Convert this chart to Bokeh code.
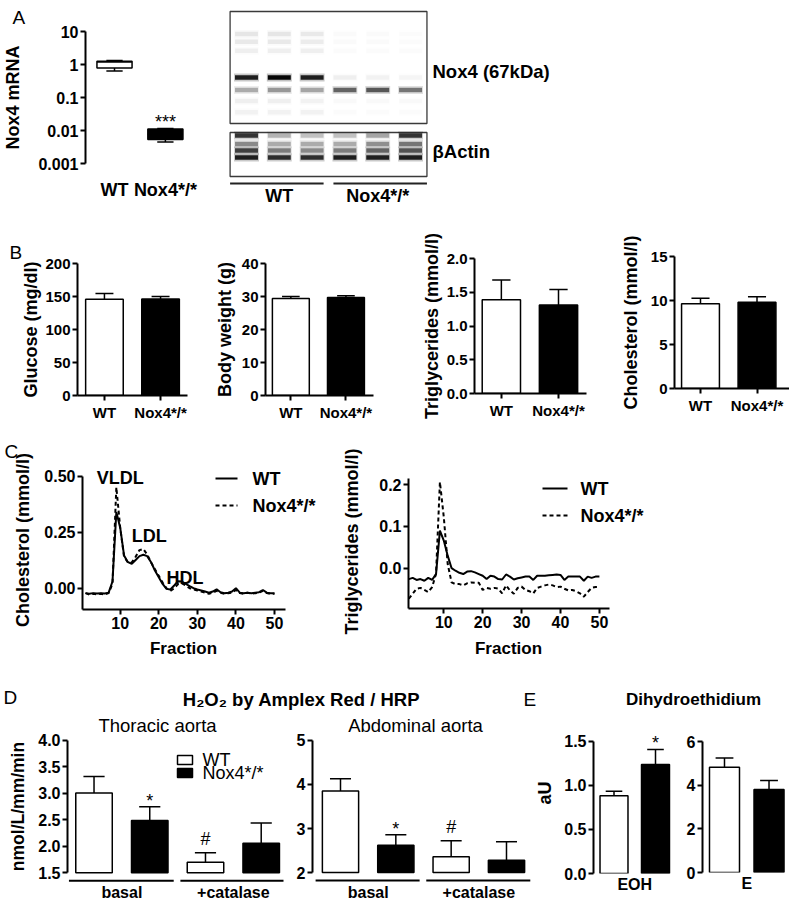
import math
from bokeh.plotting import figure
from bokeh.layouts import row, column
from bokeh.models import (Range1d, FixedTicker, PrintfTickFormatter, Label, LabelSet,
                          ColumnDataSource)
from bokeh.core.properties import value
from bokeh.embed import file_html
from bokeh.resources import INLINE

FONT = "Liberation Sans"

# ---------------------------------------------------------------- data
genotypes = ["WT", "Nox4*/*"]
bar_colors = ["white", "black"]

# A: Nox4 mRNA (box plot summary, log scale)
mrna_min = [0.63, 0.0045]
mrna_q1 = [0.79, 0.0053]
mrna_median = [1.20, 0.0077]
mrna_q3 = [1.26, 0.0112]
mrna_max = [1.32, 0.0115]
mrna_sig = ["", "***"]
mrna_ticks = [0.001, 0.01, 0.1, 1, 10]
mrna_tick_labels = ["0.001", "0.01", "0.1", "1", "10"]

# A: western blot (relative migration and band density per lane)
blot_lane_groups = ["WT", "WT", "WT", "Nox4*/*", "Nox4*/*", "Nox4*/*"]
nox4_band_rf = [0.20, 0.27, 0.35, 0.59, 0.70, 0.80, 0.90]
nox4_band_density = [
    [0.08, 0.08, 0.07, 0.015, 0.015, 0.01],
    [0.07, 0.07, 0.06, 0.015, 0.015, 0.01],
    [0.05, 0.05, 0.05, 0.01, 0.01, 0.01],
    [0.85, 0.97, 0.85, 0.05, 0.04, 0.03],
    [0.28, 0.35, 0.30, 0.55, 0.60, 0.48],
    [0.05, 0.05, 0.04, 0.02, 0.02, 0.02],
    [0.04, 0.04, 0.04, 0.01, 0.01, 0.01],
]
actin_band_rf = [0.07, 0.26, 0.41, 0.57]
actin_band_density = [
    [0.75, 0.25, 0.20, 0.20, 0.30, 0.75],
    [0.40, 0.28, 0.28, 0.28, 0.38, 0.48],
    [0.70, 0.45, 0.40, 0.45, 0.55, 0.62],
    [0.85, 0.78, 0.78, 0.85, 0.85, 0.85],
]

# B: plasma parameters (mean, SEM)
glucose_mean = [145.8, 146.3]
glucose_sem = [8.6, 3.7]
bw_mean = [29.4, 29.7]
bw_sem = [0.6, 0.5]
tg_mean = [1.39, 1.31]
tg_sem = [0.29, 0.23]
chol_mean = [9.62, 9.81]
chol_sem = [0.64, 0.61]

# C: FPLC profiles
fractions = list(range(1, 51))
chol_wt = [-0.022, -0.025, -0.022, -0.024, -0.022, -0.024, -0.020, 0.030, 0.340, 0.270,
           0.146, 0.116, 0.109, 0.126, 0.143, 0.149, 0.143, 0.116, 0.079, 0.049,
           0.019, -0.003, -0.006, 0.012, 0.031, 0.030, 0.019, 0.009, 0.000, -0.006,
           -0.010, -0.015, -0.020, -0.015, -0.005, -0.018, -0.022, -0.020, -0.015, 0.000,
           -0.020, -0.022, -0.020, -0.022, -0.020, -0.018, -0.008, -0.020, -0.022, -0.022]
chol_nox = [-0.022, -0.028, -0.025, -0.028, -0.025, -0.028, -0.022, 0.020, 0.450, 0.270,
            0.140, 0.115, 0.115, 0.140, 0.170, 0.175, 0.150, 0.115, 0.085, 0.055,
            0.025, 0.000, -0.012, 0.000, 0.018, 0.022, 0.012, 0.000, -0.005, -0.010,
            -0.015, -0.020, -0.025, -0.020, -0.012, -0.020, -0.025, -0.022, -0.020, -0.008,
            -0.022, -0.025, -0.020, -0.025, -0.022, -0.020, -0.012, -0.022, -0.025, -0.025]
tg_wt = [-0.026, -0.023, -0.028, -0.026, -0.030, -0.023, -0.028, -0.014, 0.090, 0.066,
         0.030, 0.000, -0.006, -0.011, -0.014, -0.008, -0.007, -0.010, -0.014, -0.018,
         -0.026, -0.018, -0.020, -0.026, -0.027, -0.015, -0.020, -0.027, -0.024, -0.022,
         -0.020, -0.020, -0.028, -0.018, -0.018, -0.018, -0.017, -0.016, -0.015, -0.016,
         -0.028, -0.020, -0.020, -0.020, -0.020, -0.030, -0.020, -0.023, -0.020, -0.020]
tg_nox = [-0.073, -0.061, -0.049, -0.047, -0.052, -0.057, -0.045, -0.014, 0.206, 0.122,
          0.010, -0.034, -0.038, -0.038, -0.041, -0.036, -0.034, -0.035, -0.035, -0.052,
          -0.047, -0.049, -0.047, -0.049, -0.060, -0.041, -0.053, -0.061, -0.047, -0.044,
          -0.052, -0.055, -0.060, -0.047, -0.044, -0.041, -0.039, -0.041, -0.045, -0.044,
          -0.049, -0.053, -0.052, -0.055, -0.060, -0.068, -0.057, -0.047, -0.045, -0.045]
lipo_names = ["VLDL", "LDL", "HDL"]

# D: H2O2 release
h2o2_conditions = ["basal", "basal", "+catalase", "+catalase"]
h2o2_colors = ["white", "black", "white", "black"]
thoracic_mean = [3.01, 2.49, 1.70, 2.06]
thoracic_sem = [0.31, 0.26, 0.18, 0.38]
thoracic_sig = ["", "*", "#", ""]
abdominal_mean = [3.85, 2.62, 2.36, 2.28]
abdominal_sem = [0.28, 0.24, 0.36, 0.42]
abdominal_sig = ["", "*", "#", ""]

# E: dihydroethidium
eoh_mean = [0.884, 1.24]
eoh_sem = [0.05, 0.17]
eoh_sig = ["", "*"]
e_mean = [4.82, 3.80]
e_sem = [0.43, 0.41]
e_sig = ["", ""]

# ---------------------------------------------------------------- helpers
GEOM = {}


def make_fig(box, frame, xr, yr, y_log=False, x_axis=True, y_axis=True):
    x0, y0, x1, y1 = box
    fx0, fy0, fx1, fy1 = frame
    p = figure(width=x1 - x0, height=y1 - y0,
               x_range=Range1d(*xr), y_range=Range1d(*yr),
               y_axis_type="log" if y_log else "linear",
               x_axis_location="below" if x_axis else None,
               y_axis_location="left" if y_axis else None,
               min_border_left=fx0 - x0, min_border_right=x1 - fx1,
               min_border_top=fy0 - y0, min_border_bottom=y1 - fy1,
               frame_align=False,
               output_backend="svg", toolbar_location=None)
    p.outline_line_color = None
    p.grid.visible = False
    p.background_fill_color = "white"
    p.border_fill_color = "white"
    GEOM[p.id] = (frame, xr, yr, y_log)
    return p


def canvas_fig(box):
    x0, y0, x1, y1 = box
    return make_fig(box, box, (x0, x1), (y1, y0), x_axis=False, y_axis=False)


def to_data(p, px, py):
    (fx0, fy0, fx1, fy1), (xa, xb), (ya, yb), ylog = GEOM[p.id]
    x = xa + (px - fx0) / (fx1 - fx0) * (xb - xa)
    t = (py - fy0) / (fy1 - fy0)
    if ylog:
        la, lb = math.log10(ya), math.log10(yb)
        y = 10 ** (lb - t * (lb - la))
    else:
        y = yb - t * (yb - ya)
    return x, y


def px_per_y(p):
    (fx0, fy0, fx1, fy1), _, (ya, yb), _ = GEOM[p.id]
    return (fy1 - fy0) / (yb - ya)


def label(p, px, py, txt, size="18px", bold=False, align="left", baseline="middle", angle=0.0):
    x, y = to_data(p, px, py)
    p.add_layout(Label(x=x, y=y, text=txt, text_font=FONT, text_font_size=size,
                       text_font_style="bold" if bold else "normal", text_color="black",
                       text_align=align, text_baseline=baseline, angle=angle))


def panel_letter(p, letter, px, standoff):
    frame = GEOM[p.id][0]
    p.title.text = letter
    p.title.align = "left"
    p.title.offset = px - frame[0]
    p.title.standoff = standoff
    p.title.text_font = FONT
    p.title.text_font_size = "19px"
    p.title.text_font_style = "normal"
    p.title.text_color = "black"


def style_axis(ax, size, bold=True, tick_out=5, standoff=2):
    ax.axis_line_width = 2
    ax.axis_line_color = "black"
    ax.major_tick_line_width = 2
    ax.major_tick_line_color = "black"
    ax.major_tick_out = tick_out
    ax.major_tick_in = 0
    ax.minor_tick_line_color = None
    ax.major_label_text_font = FONT
    ax.major_label_text_font_size = size
    ax.major_label_text_font_style = "bold" if bold else "normal"
    ax.major_label_text_color = "black"
    ax.major_label_standoff = standoff
    ax.axis_label_text_font = FONT
    ax.axis_label_text_font_style = "bold"
    ax.axis_label_text_color = "black"


def set_yaxis(p, ticks, size="15px", fmt=None, overrides=None, axis_label=None,
              label_size="18px", label_standoff=5, bounds=None):
    ax = p.yaxis[0]
    style_axis(ax, size)
    ax.ticker = FixedTicker(ticks=ticks)
    if fmt:
        ax.formatter = PrintfTickFormatter(format=fmt)
    if overrides:
        ax.major_label_overrides = overrides
    if axis_label:
        ax.axis_label = axis_label
        ax.axis_label_text_font_size = label_size
        ax.axis_label_standoff = label_standoff
    if bounds:
        ax.bounds = bounds


def draw_bars(p, means, sems, colors, width, cap_half, base, sig=None, sig_dy=None, sig_size="18px"):
    xs = list(range(1, len(means) + 1))
    up = [m + s for m, s in zip(means, sems)]
    src = ColumnDataSource(dict(x=xs, top=means, up=up, color=colors,
                                cl=[x - cap_half for x in xs], cr=[x + cap_half for x in xs]))
    r = p.vbar(x="x", top="top", bottom=base, width=width, fill_color="color",
               line_color="black", line_width=1.5, source=src)
    p.segment(x0="x", y0="top", x1="x", y1="up", line_color="black", line_width=1.5, source=src)
    p.segment(x0="cl", y0="up", x1="cr", y1="up", line_color="black", line_width=1.5, source=src)
    if sig:
        dys = [(sig_dy or {}).get(t, 0) for t in sig]
        s2 = ColumnDataSource(dict(x=xs, y=up, t=sig, dy=dys))
        p.add_layout(LabelSet(x="x", y="y", text="t", y_offset="dy", source=s2,
                              text_font=value(FONT), text_font_size=sig_size,
                              text_align="center", text_baseline="alphabetic",
                              text_color="black"))
    return r, xs


def cat_xaxis(p, xs, names, size="15px", standoff=3, line=True):
    ax = p.xaxis[0]
    style_axis(ax, size, standoff=standoff)
    ax.ticker = FixedTicker(ticks=xs)
    ax.major_label_overrides = {x: n for x, n in zip(xs, names)}
    if not line:
        ax.axis_line_color = None
        ax.major_tick_line_color = None
        ax.major_tick_out = 0


def line_key(p, x0, x1, y, dash="solid"):
    a = to_data(p, x0, y)
    b = to_data(p, x1, y)
    p.segment(x0=[a[0]], y0=[a[1]], x1=[b[0]], y1=[b[1]], line_color="black",
              line_width=2, line_dash=dash)


def box_key(p, x0, x1, y0, y1, color):
    a = to_data(p, x0, y0)
    b = to_data(p, x1, y1)
    p.quad(left=[a[0]], right=[b[0]], top=[a[1]], bottom=[b[1]], fill_color=color,
           line_color="black", line_width=1.5)


# ---------------------------------------------------------------- row A
pA1 = make_fig((0, 0, 225, 205), (77, 31, 200, 163), (0.43, 2.69), (0.001, 10), y_log=True)
panel_letter(pA1, "A", 4, 7)
xsA = list(range(1, len(genotypes) + 1))
bw_box = 0.69
srcA = ColumnDataSource(dict(
    x=xsA, lo=mrna_min, q1=mrna_q1, med=mrna_median, q3=mrna_q3, hi=mrna_max, color=bar_colors,
    cl=[x - 0.16 for x in xsA], cr=[x + 0.16 for x in xsA],
    bl=[x - bw_box / 2 for x in xsA], br=[x + bw_box / 2 for x in xsA]))
pA1.segment(x0="x", y0="q3", x1="x", y1="hi", line_color="black", line_width=1.5, source=srcA)
pA1.segment(x0="x", y0="q1", x1="x", y1="lo", line_color="black", line_width=1.5, source=srcA)
pA1.segment(x0="cl", y0="hi", x1="cr", y1="hi", line_color="black", line_width=1.5, source=srcA)
pA1.segment(x0="cl", y0="lo", x1="cr", y1="lo", line_color="black", line_width=1.5, source=srcA)
pA1.vbar(x="x", width=bw_box, bottom="q1", top="q3", fill_color="color",
         line_color="black", line_width=1.5, source=srcA)
pA1.segment(x0="bl", y0="med", x1="br", y1="med", line_color="black", line_width=1.5, source=srcA)
pA1.add_layout(LabelSet(x="x", y="hi", text="t",
                        source=ColumnDataSource(dict(x=xsA, hi=mrna_max, t=mrna_sig)),
                        text_font=value(FONT), text_font_size="18px", text_align="center",
                        text_baseline="alphabetic", text_color="black"))
set_yaxis(pA1, mrna_ticks, size="16px",
          overrides={t: s for t, s in zip(mrna_ticks, mrna_tick_labels)},
          axis_label="Nox4 mRNA", label_size="18px", label_standoff=12)
cat_xaxis(pA1, xsA, genotypes, size="18px", standoff=16, line=False)

# western blot
pA2 = make_fig((225, 0, 789, 205), (225, 0, 789, 205), (0.36, 17.55), (205, 0),
               x_axis=False, y_axis=False)
lanes = list(range(1, len(blot_lane_groups) + 1))
nox4_top, nox4_bottom = 11, 123
actin_top, actin_bottom = 132, 176
for top, bottom in [(nox4_top, nox4_bottom), (actin_top, actin_bottom)]:
    pA2.quad(left=[lanes[0] - 0.5], right=[lanes[-1] + 0.5], top=[top], bottom=[bottom],
             fill_color="white", line_color="#3a3a3a", line_width=1.3)


def band_source(rfs, dens, top, bottom):
    xs, ys, a = [], [], []
    for rf, row_d in zip(rfs, dens):
        for lane, d in zip(lanes, row_d):
            xs.append(lane)
            ys.append(top + rf * (bottom - top))
            a.append(d)
    return xs, ys, a


for rfs, dens, top, bottom in [(nox4_band_rf, nox4_band_density, nox4_top, nox4_bottom),
                               (actin_band_rf, actin_band_density, actin_top, actin_bottom)]:
    bx, by, ba = band_source(rfs, dens, top, bottom)
    pA2.rect(x=bx, y=by, width=0.76, height=8, fill_color="black",
             fill_alpha=[v * 0.25 for v in ba], line_color=None)
    pA2.rect(x=bx, y=by, width=0.70, height=4.5, fill_color="black", fill_alpha=ba, line_color=None)

group_names = []
for g in blot_lane_groups:
    if g not in group_names:
        group_names.append(g)
g_first = [min(l for l, g in zip(lanes, blot_lane_groups) if g == n) for n in group_names]
g_last = [max(l for l, g in zip(lanes, blot_lane_groups) if g == n) for n in group_names]
ul_x0 = [f - 0.5 + (0.15 if i > 0 else 0) for i, f in enumerate(g_first)]
ul_x1 = [l + 0.5 - (0.15 if i < len(g_last) - 1 else 0) for i, l in enumerate(g_last)]
pA2.segment(x0=ul_x0, x1=ul_x1, y0=[183] * len(group_names), y1=[183] * len(group_names),
            line_color="#222222", line_width=2)
pA2.text(x=[(f + l) / 2 for f, l in zip(g_first, g_last)], y=[195] * len(group_names),
         text=group_names, text_font=value(FONT), text_font_size="18px",
         text_font_style="bold", text_align="center", text_baseline="middle", text_color="black")
label(pA2, 432, 71, "Nox4 (67kDa)", size="18.5px", bold=True)
label(pA2, 432, 151, "βActin", size="18.5px", bold=True)

# ---------------------------------------------------------------- row B


def b_panel(box, frame, xr, yr, ticks, fmt, ylabel, standoff, means, sems):
    p = make_fig(box, frame, xr, yr)
    r, xs = draw_bars(p, means, sems, bar_colors, 0.67, 0.16, 0)
    set_yaxis(p, ticks, size="15px", fmt=fmt, axis_label=ylabel, label_size="18px",
              label_standoff=standoff)
    cat_xaxis(p, xs, genotypes, size="15px", standoff=3)
    return p


pB1 = b_panel((0, 205, 200, 423), (77, 263, 187, 395), (0.52, 2.48), (0, 200),
              [0, 50, 100, 150, 200], None, "Glucose (mg/dl)", 1, glucose_mean, glucose_sem)
panel_letter(pB1, "B", 9, 2)
pB2 = b_panel((200, 205, 410, 423), (265, 263, 373, 395), (0.54, 2.50), (0, 40),
              [0, 10, 20, 30, 40], None, "Body weight (g)", 4, bw_mean, bw_sem)
pB3 = b_panel((410, 205, 610, 423), (474, 258, 586, 393), (0.53, 2.49), (0, 2.0),
              [0, 0.5, 1.0, 1.5, 2.0], "%.1f", "Triglycerides (mmol/l)", 2, tg_mean, tg_sem)
pB4 = b_panel((610, 205, 789, 423), (674, 256, 789, 388), (0.54, 2.575), (0, 15),
              [0, 5, 10, 15], None, "Cholesterol (mmol/l)", 7, chol_mean, chol_sem)

# ---------------------------------------------------------------- row C


def profile_panel(box, frame, xr, yr, xb, yb, wt, nox, ticks, fmt, ylabel, standoff, key):
    p = make_fig(box, frame, xr, yr)
    p.line(fractions, wt, line_color="black", line_width=2)
    p.line(fractions, nox, line_color="black", line_width=2, line_dash="4 3")
    set_yaxis(p, ticks, size="16px", fmt=fmt, axis_label=ylabel, label_size="18px",
              label_standoff=standoff, bounds=yb)
    ax = p.xaxis[0]
    style_axis(ax, "16px", standoff=2)
    ax.ticker = FixedTicker(ticks=[10, 20, 30, 40, 50])
    ax.bounds = xb
    kx0, kx1, tx, ky0, ky1 = key
    line_key(p, kx0, kx1, ky0)
    line_key(p, kx0, kx1, ky1, dash="4 3")
    label(p, tx, ky0, genotypes[0], size="18px", bold=True)
    label(p, tx, ky1, genotypes[1], size="18px", bold=True)
    return p


pC1 = profile_panel((0, 423, 330, 637), (82, 470, 330, 609), (0.226, 64.52), (-0.095, 0.525),
                    (0.226, 52.85), (-0.095, 0.5), chol_wt, chol_nox, [0, 0.25, 0.5], "%.2f",
                    "Cholesterol (mmol/l)", 8, (215, 237, 252, 478, 505))
panel_letter(pC1, "C", 4, 17)
pC2 = profile_panel((330, 423, 789, 637), (408, 474, 789, 608), (0.925, 98.87), (-0.0963, 0.224),
                    (0.925, 52.57), (-0.0963, 0.215), tg_wt, tg_nox, [0, 0.1, 0.2], "%.1f",
                    "Triglycerides (mmol/l)", 14, (542, 567, 580, 488, 515))
for name, f, y in zip(lipo_names, [10, 17.5, 26.8], [0.49, 0.235, 0.047]):
    pC1.add_layout(Label(x=f, y=y, text=name, text_font=FONT, text_font_size="18px",
                         text_font_style="bold", text_align="center", text_baseline="middle",
                         text_color="black"))
pCf = canvas_fig((0, 637, 789, 662))
label(pCf, 183, 648, "Fraction", size="17px", bold=True, align="center")
label(pCf, 508, 648, "Fraction", size="17px", bold=True, align="center")

# ---------------------------------------------------------------- titles D / E
pDt = canvas_fig((0, 662, 540, 712))
pEt = canvas_fig((540, 662, 789, 712))
label(pDt, 3, 697, "D", size="19px")
label(pDt, 523, 699, "E", size="19px")
label(pDt, 301, 699, "H\u2082O\u2082 by Amplex Red / HRP", size="18.5px", bold=True, align="center")
label(pEt, 693, 699, "Dihydroethidium", size="17px", bold=True, align="center")

# ---------------------------------------------------------------- D bars


def h2o2_panel(box, frame, xr, yr, base, means, sems, sig, ticks, fmt, subtitle, sub_x,
               ylabel=None):
    p = make_fig(box, frame, xr, yr, x_axis=False)
    r, xs = draw_bars(p, means, sems, h2o2_colors, 0.655, 0.19, base, sig=sig,
                      sig_dy={"*": 0, "#": 8}, sig_size="18px")
    set_yaxis(p, ticks, size="16px", fmt=fmt, bounds=(ticks[0], ticks[-1]),
              axis_label=ylabel, label_size="17.5px", label_standoff=7)
    ppu = px_per_y(p)
    groups = []
    for c in h2o2_conditions:
        if c not in groups:
            groups.append(c)
    first = [min(x for x, c in zip(xs, h2o2_conditions) if c == g) for g in groups]
    last = [max(x for x, c in zip(xs, h2o2_conditions) if c == g) for g in groups]
    ul = base - 8 / ppu
    lab = base - 20 / ppu
    p.segment(x0=[f - 0.45 for f in first], x1=[l + 0.43 for l in last],
              y0=[ul] * len(groups), y1=[ul] * len(groups), line_color="black", line_width=2)
    p.text(x=[(f + l) / 2 for f, l in zip(first, last)], y=[lab] * len(groups), text=groups,
           text_font=value(FONT), text_font_size="16px", text_font_style="bold",
           text_align="center", text_baseline="middle", text_color="black")
    label(p, sub_x, 725, subtitle, size="18.5px", align="center")
    return p


pD1 = h2o2_panel((0, 712, 290, 900), (67, 712, 283, 900), (0.524, 4.4), (0.977, 4.529), 1.5,
                 thoracic_mean, thoracic_sem, thoracic_sig,
                 [1.5, 2.0, 2.5, 3.0, 3.5, 4.0], "%.1f", "Thoracic aorta", 157,
                 ylabel="nmol/L/mm/min")
pD2 = h2o2_panel((290, 712, 532, 900), (312, 712, 532, 900), (0.494, 4.47), (1.364, 5.636), 2.0,
                 abdominal_mean, abdominal_sem, abdominal_sig, [2, 3, 4, 5], None,
                 "Abdominal aorta", 415)
box_key(pD1, 177, 192, 755, 764, bar_colors[0])
box_key(pD1, 177, 192, 768, 777, bar_colors[1])
label(pD1, 202, 759, genotypes[0], size="18px")
label(pD1, 202, 772, genotypes[1], size="18px")

# ---------------------------------------------------------------- E bars


def dhe_panel(box, frame, xr, yr, means, sems, sig, ticks, fmt, name, ylabel=None):
    p = make_fig(box, frame, xr, yr)
    draw_bars(p, means, sems, bar_colors, 0.674, 0.2, 0, sig=sig, sig_dy={"*": 0})
    set_yaxis(p, ticks, size="16px", fmt=fmt, bounds=(ticks[0], ticks[-1]),
              axis_label=ylabel, label_size="18px", label_standoff=6)
    cat_xaxis(p, [1.5], [name], size="16px", standoff=2, line=False)
    return p


pE1 = dhe_panel((532, 712, 676, 900), (587, 712, 676, 873), (0.506, 2.506), (0, 1.8295),
                eoh_mean, eoh_sem, eoh_sig, [0, 0.5, 1.0, 1.5], "%.1f", "EOH", ylabel="aU")
pE2 = dhe_panel((676, 712, 789, 900), (702, 712, 789, 872), (0.506, 2.46), (0, 7.329),
                e_mean, e_sem, e_sig, [0, 2, 4, 6], None, "E")

# ---------------------------------------------------------------- layout
layout = column(
    row(pA1, pA2),
    row(pB1, pB2, pB3, pB4),
    row(pC1, pC2),
    pCf,
    row(pDt, pEt),
    row(pD1, pD2, pE1, pE2),
)

with open("out.html", "w") as f:
    f.write(file_html(layout, INLINE))
